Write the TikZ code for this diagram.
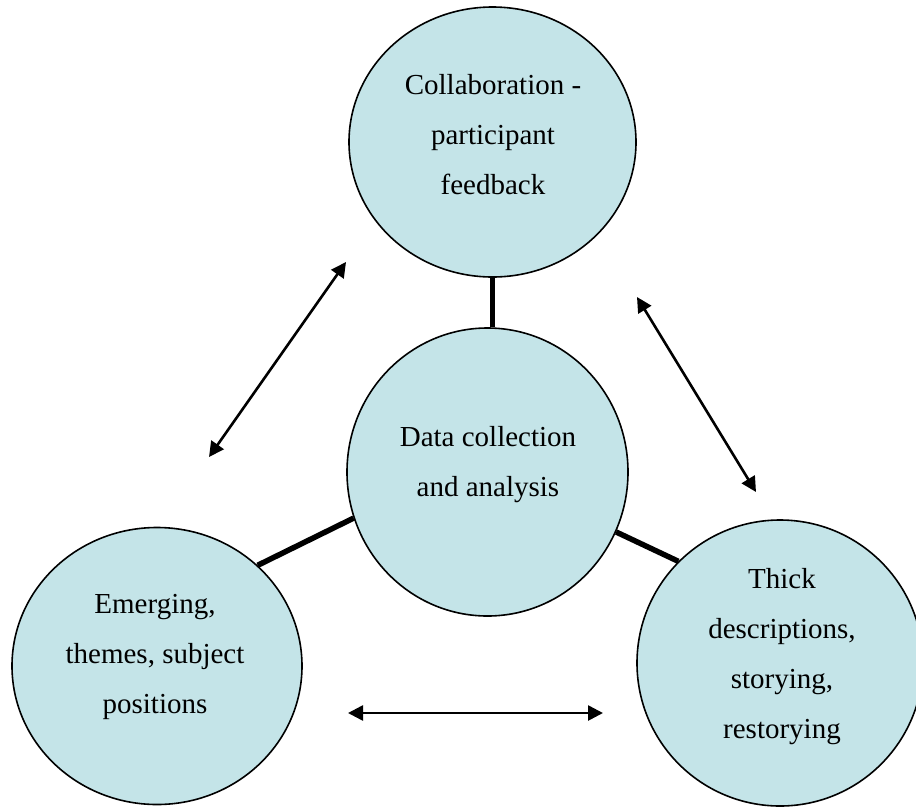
\documentclass[tikz,border=0pt]{standalone}
\usepackage{fontspec}
\setmainfont{Liberation Serif}
\usetikzlibrary{shapes.geometric,arrows.meta}
\definecolor{bubblefill}{RGB}{196,228,232}
\begin{document}
\begin{tikzpicture}[x=1pt,y=-1pt,
  bubble/.style={ellipse,draw=black,line width=1.6pt,fill=bubblefill,inner sep=0pt},
  label/.style={align=center,font=\fontsize{29}{50}\selectfont,inner sep=0pt},
  spoke/.style={line width=5.5pt},
  twoway/.style={line width=2.6pt,{Triangle[length=15pt,width=15pt]}-{Triangle[length=15pt,width=15pt]}}]
  \useasboundingbox (0,0) rectangle (916,807);

  % the four bubbles
  \node[bubble,minimum width=287pt,minimum height=270pt] (fb) at (492.5,142) {};
  \node[bubble,minimum width=281pt,minimum height=288pt] (core) at (487.5,472) {};
  \node[bubble,minimum width=290pt,minimum height=277pt] (themes) at (157,666) {};
  \node[bubble,minimum width=286pt,minimum height=286pt] (thick) at (780,663) {};

  % spokes from the core to the outer bubbles
  \draw[spoke] (fb.south) -- (fb.south |- core.north);
  \draw[spoke] (themes.45) -- (core.199);
  \draw[spoke] (core.-25) -- (thick.135);

  % bubble texts
  \node[label] (fbt) at (493,135) {Collaboration -\\participant\\feedback};
  \node[label] (coret) at (488,465) {Data collection\\and analysis};
  \node[label] (themest) at (155,657) {Emerging,\\themes, subject\\positions};
  \node[label] (thickt) at (782,657) {Thick\\descriptions,\\storying,\\restorying};

  % two-way arrows between the outer bubbles
  \coordinate (la) at (346,262);
  \coordinate (lb) at (209,457);
  \coordinate (ra) at (637,297);
  \coordinate (rb) at (756,492);
  \coordinate (ha) at (348,713);
  \coordinate (hb) at (603,713);
  \draw[twoway] (la) -- (lb);
  \draw[twoway] (ra) -- (rb);
  \draw[twoway] (ha) -- (hb);
\end{tikzpicture}
\end{document}
